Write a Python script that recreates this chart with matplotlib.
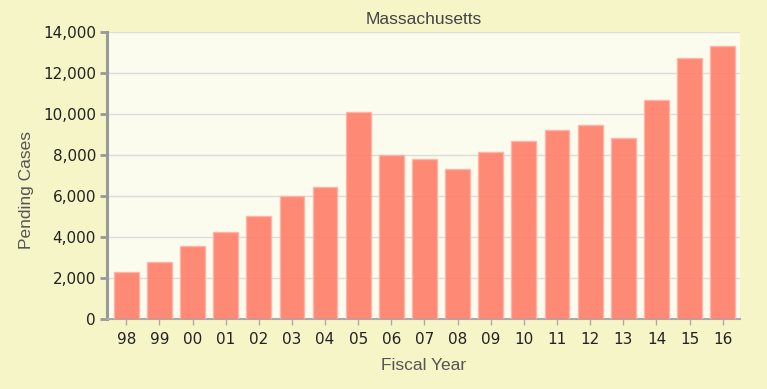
#!/usr/bin/env python3

import matplotlib
matplotlib.use('Agg')
import matplotlib.pyplot as plt
from matplotlib.ticker import FuncFormatter

# Pending cases by fiscal year
years = ['98', '99', '00', '01', '02', '03', '04', '05', '06', '07',
         '08', '09', '10', '11', '12', '13', '14', '15', '16']
pending = [2290, 2760, 3560, 4230, 5020, 5980, 6440, 10100, 8000, 7820,
           7300, 8150, 8670, 9240, 9450, 8850, 10670, 12750, 13300]
yticks = [0, 2000, 4000, 6000, 8000, 10000, 12000, 14000]


def plot_chart():
    fig = plt.figure(figsize=(7.67, 3.89), dpi=100, facecolor='#f5f5c8')
    ax = fig.add_axes([107 / 767, 70 / 389, 633 / 767, 287 / 389])
    ax.set_facecolor('#fbfbee')

    xs = list(range(len(years)))
    ax.bar(xs, pending, width=0.75, color='#ff7a66', alpha=0.88,
           edgecolor='#ffb3a6', linewidth=1, zorder=3)

    ax.set_xlim(-0.58, len(years) - 0.48)
    ax.set_ylim(0, 14000)
    ax.set_xticks(xs)
    ax.set_xticklabels(years)
    ax.set_yticks(yticks)
    ax.yaxis.set_major_formatter(FuncFormatter(lambda v, p: f'{int(v):,}'))

    ax.grid(axis='y', color='#dcdcdc', linewidth=1, zorder=1)
    ax.set_axisbelow(True)

    for side in ('top', 'right'):
        ax.spines[side].set_visible(False)
    ax.spines['left'].set_color('#999999')
    ax.spines['left'].set_linewidth(2.2)
    ax.spines['bottom'].set_color('#aaaaaa')
    ax.spines['bottom'].set_linewidth(1.5)

    ax.tick_params(axis='y', colors='#999999', length=5, width=2,
                   labelsize=11, labelcolor='#222222', pad=3)
    ax.tick_params(axis='x', colors='#aaaaaa', length=4, width=1,
                   labelsize=11, labelcolor='#222222', pad=5)

    ax.set_title('Massachusetts', fontsize=12.5, color='#444444',
                 family='Liberation Sans', pad=6)
    ax.set_xlabel('Fiscal Year', fontsize=12.5, color='#555555',
                  family='Liberation Sans', labelpad=8)
    ax.set_ylabel('Pending Cases', fontsize=12.5, color='#555555',
                  family='Liberation Sans', labelpad=6.5, y=0.448)

    fig.savefig('out.png', dpi=100, facecolor=fig.get_facecolor())


if __name__ == '__main__':
    plot_chart()
